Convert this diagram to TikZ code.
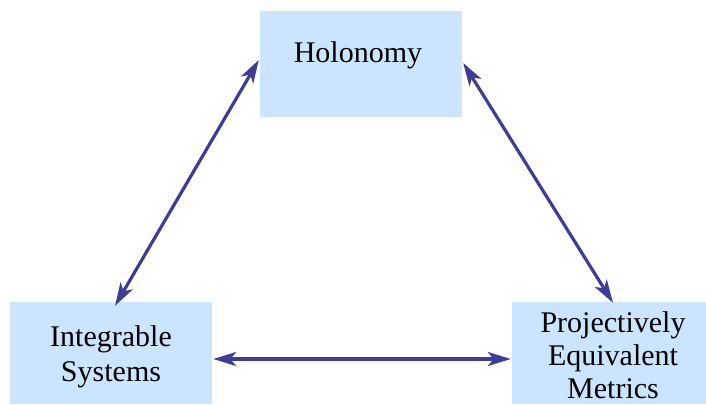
\documentclass[tikz,border=0pt]{standalone}
\usepackage{fontspec}
\setmainfont{Liberation Serif}
\usetikzlibrary{arrows.meta}
\definecolor{boxfill}{RGB}{204,229,255}
\definecolor{arrcol}{RGB}{62,60,150}
\begin{document}
\begin{tikzpicture}[x=1pt,y=-1pt,
  box/.style={fill=boxfill,draw=none,minimum width=202pt,inner sep=0pt},
  lbl/.style={font=\fontsize{30}{34}\selectfont,align=center,inner sep=0pt},
  arr/.style={draw=arrcol,line width=3.2pt,{Stealth[length=23pt,width=14pt,inset=6pt]}-{Stealth[length=23pt,width=14pt,inset=6pt]}}]
\useasboundingbox (0,0) rectangle (706,404);
\clip (0,0) rectangle (706,404);
\node[box,minimum height=105pt] (hol) at (361,64) {};
\node[box,minimum height=102pt] (int) at (111,353) {};
\node[box,minimum height=102pt] (proj) at (613,353) {};
\node[lbl] (holt) at (358,55) {Holonomy};
\node[lbl,font=\fontsize{30}{35}\selectfont] (intt) at (111,357) {Integrable\\Systems};
\node[lbl,font=\fontsize{30}{33}\selectfont] (projt) at (613,355) {Projectively\\Equivalent\\Metrics};
\draw[arr] ([xshift=-1pt,yshift=4pt]hol.west) -- ([xshift=4pt,yshift=-4pt]int.north);
\draw[arr] ([xshift=1pt,yshift=1pt]hol.east) -- ([yshift=-1pt]proj.north);
\draw[arr] ([xshift=1pt,yshift=-6pt]int.east) -- ([xshift=-1pt,yshift=-6pt]proj.west);
\end{tikzpicture}
\end{document}
